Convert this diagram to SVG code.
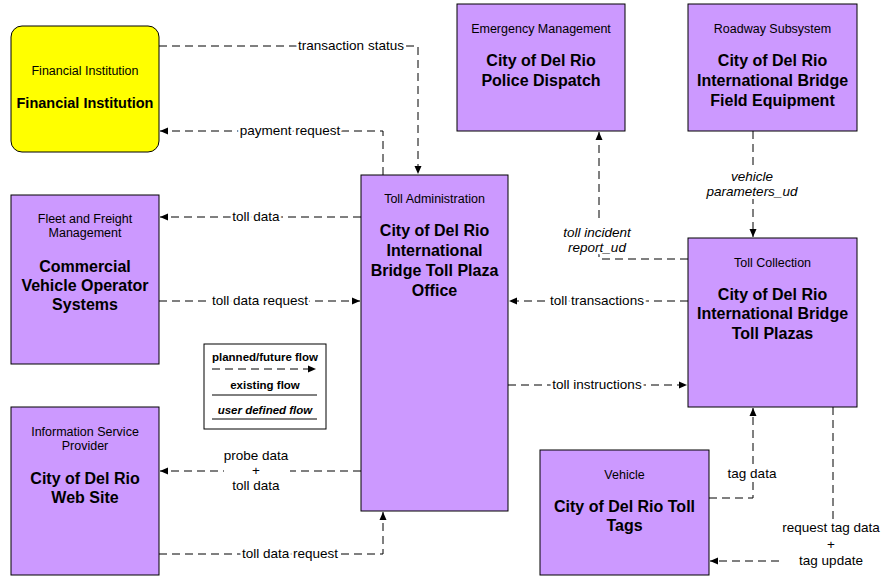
<svg xmlns="http://www.w3.org/2000/svg" width="882" height="577" viewBox="0 0 882 577">
<style>
.node{fill:#CC99FF;stroke:#000;stroke-width:1}
.fin{fill:#FFFF00;stroke:#000;stroke-width:1}
.typ{font-family:"Liberation Sans",Arial,sans-serif;font-size:12.5px;text-anchor:middle;fill:#000}
.name{font-family:"Liberation Sans",Arial,sans-serif;font-size:16px;font-weight:bold;text-anchor:middle;fill:#000}
.flow{fill:none;stroke:#000;stroke-width:1;stroke-dasharray:8,5}
.lbl{font-family:"Liberation Sans",Arial,sans-serif;font-size:13.5px;text-anchor:middle;fill:#000;stroke:#fff;stroke-width:5px;stroke-linejoin:round;paint-order:stroke}
.ud{font-style:italic}
.bg{fill:#fff;stroke:none}
.leg{font-family:"Liberation Sans",Arial,sans-serif;font-size:11.5px;font-weight:bold;text-anchor:middle;fill:#000}
</style>
<defs>
<marker id="ah" markerWidth="8" markerHeight="8" refX="8" refY="4" orient="auto" markerUnits="userSpaceOnUse">
<path d="M0,0.5 L8,4 L0,7.5 z" fill="#000"/>
</marker>
</defs>
<rect width="882" height="577" fill="#fff"/>

<g id="connectors">
<path class="flow" d="M159,46 H418 V174" marker-end="url(#ah)"/>
<path class="flow" d="M383,175 V131 H160" marker-end="url(#ah)"/>
<path class="flow" d="M361,217 H160" marker-end="url(#ah)"/>
<path class="flow" d="M159,301 H360" marker-end="url(#ah)"/>
<path class="flow" d="M361,471 H160" marker-end="url(#ah)"/>
<path class="flow" d="M159,554 H383 V512" marker-end="url(#ah)"/>
<path class="flow" d="M688,301 H509" marker-end="url(#ah)"/>
<path class="flow" d="M508,385 H687" marker-end="url(#ah)"/>
<path class="flow" d="M688,259 H599 V132" marker-end="url(#ah)"/>
<path class="flow" d="M753,131 V237" marker-end="url(#ah)"/>
<path class="flow" d="M709,498 H753 V408" marker-end="url(#ah)"/>
<path class="flow" d="M833,407 V561 H710" marker-end="url(#ah)"/>

<rect class="bg" x="224" y="446" width="66" height="46"/>
<rect class="bg" x="558" y="223" width="80" height="31"/>
<rect class="bg" x="705" y="168" width="94" height="31"/>
<rect class="bg" x="779" y="520" width="103" height="50"/>

<text class="lbl" x="351" y="50">transaction status</text>
<text class="lbl" x="290" y="135">payment request</text>
<text class="lbl" x="256" y="221">toll data</text>
<text class="lbl" x="260" y="305">toll data request</text>
<text class="lbl" x="256" y="460">probe data</text>
<text class="lbl" x="256" y="475">+</text>
<text class="lbl" x="256" y="490">toll data</text>
<text class="lbl" x="290" y="558">toll data request</text>
<text class="lbl" x="597" y="305">toll transactions</text>
<text class="lbl" x="597" y="389">toll instructions</text>
<text class="lbl ud" x="597" y="237">toll incident</text>
<text class="lbl ud" x="597" y="252">report_ud</text>
<text class="lbl ud" x="752" y="181">vehicle</text>
<text class="lbl ud" x="752" y="196">parameters_ud</text>
<text class="lbl" x="752" y="478">tag data</text>
<text class="lbl" x="831" y="532">request tag data</text>
<text class="lbl" x="831" y="549">+</text>
<text class="lbl" x="831" y="565">tag update</text>
</g>

<g id="financial-institution">
<rect class="fin" x="11" y="26" width="148" height="126" rx="11"/>
<text class="typ" x="85" y="75">Financial Institution</text>
<text class="name" x="85" y="108" style="font-size:14.5px">Financial Institution</text>
</g>

<g id="emergency-management">
<rect class="node" x="457" y="4" width="168" height="127"/>
<text class="typ" x="541" y="33">Emergency Management</text>
<text class="name" x="541" y="66">City of Del Rio</text>
<text class="name" x="541" y="86">Police Dispatch</text>
</g>

<g id="roadway-subsystem">
<rect class="node" x="688" y="4" width="169" height="127"/>
<text class="typ" x="772.5" y="33">Roadway Subsystem</text>
<text class="name" x="772.5" y="66">City of Del Rio</text>
<text class="name" x="772.5" y="86">International Bridge</text>
<text class="name" x="772.5" y="106">Field Equipment</text>
</g>

<g id="fleet-freight">
<rect class="node" x="11" y="195" width="148" height="169"/>
<text class="typ" x="85" y="223">Fleet and Freight</text>
<text class="typ" x="85" y="237">Management</text>
<text class="name" x="85" y="272">Commercial</text>
<text class="name" x="85" y="291">Vehicle Operator</text>
<text class="name" x="85" y="310">Systems</text>
</g>

<g id="toll-administration">
<rect class="node" x="361" y="175" width="147" height="336"/>
<text class="typ" x="434.5" y="203">Toll Administration</text>
<text class="name" x="434.5" y="236">City of Del Rio</text>
<text class="name" x="434.5" y="256">International</text>
<text class="name" x="434.5" y="276">Bridge Toll Plaza</text>
<text class="name" x="434.5" y="296">Office</text>
</g>

<g id="toll-collection">
<rect class="node" x="688" y="238" width="169" height="169"/>
<text class="typ" x="772.5" y="267">Toll Collection</text>
<text class="name" x="772.5" y="300">City of Del Rio</text>
<text class="name" x="772.5" y="319">International Bridge</text>
<text class="name" x="772.5" y="339">Toll Plazas</text>
</g>

<g id="information-service-provider">
<rect class="node" x="11" y="407" width="148" height="168"/>
<text class="typ" x="85" y="436">Information Service</text>
<text class="typ" x="85" y="450">Provider</text>
<text class="name" x="85" y="484">City of Del Rio</text>
<text class="name" x="85" y="503">Web Site</text>
</g>

<g id="vehicle">
<rect class="node" x="540" y="450" width="169" height="125"/>
<text class="typ" x="624.5" y="479">Vehicle</text>
<text class="name" x="624.5" y="512">City of Del Rio Toll</text>
<text class="name" x="624.5" y="531">Tags</text>
</g>

<g id="legend">
<rect x="204" y="344" width="122" height="85" fill="#fff" stroke="#000" stroke-width="1"/>
<text class="leg" x="265" y="361">planned/future flow</text>
<path class="flow" d="M212,369 H316" stroke-dasharray="5,3" marker-end="url(#ah)"/>
<text class="leg" x="265" y="389">existing flow</text>
<line x1="212" y1="395" x2="317" y2="395" stroke="#000" stroke-width="1"/>
<text class="leg" x="265" y="414" font-style="italic">user defined flow</text>
<line x1="212" y1="419" x2="317" y2="419" stroke="#000" stroke-width="1"/>
</g>
</svg>
